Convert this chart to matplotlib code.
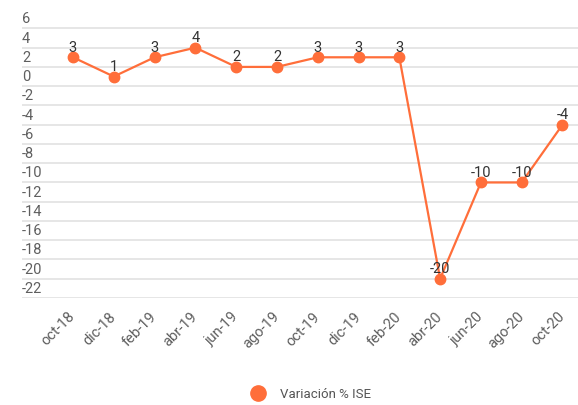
import matplotlib

matplotlib.use("Agg")
import matplotlib.pyplot as plt
from matplotlib.lines import Line2D
from matplotlib.transforms import ScaledTranslation

periods = ["oct-18", "dic-18", "feb-19", "abr-19", "jun-19", "ago-19", "oct-19",
           "dic-19", "feb-20", "abr-20", "jun-20", "ago-20", "oct-20"]
ise_var = [3, 1, 3, 4, 2, 2, 3, 3, 3, -20, -10, -10, -4]
y_ticks = list(range(-22, 7, 2))

line_color = "#ff6e3a"
plt.rcParams["font.family"] = ["Roboto", "DejaVu Sans"]

fig = plt.figure(figsize=(5.78, 4.05), dpi=100)
ax = fig.add_axes([22 / 578, 1 - 298 / 405, 556 / 578, 285 / 405])

x = list(range(len(periods)))
ax.plot(x, ise_var, color=line_color, linewidth=1.6, marker="o", markersize=7.5, zorder=3)
for xi, v in zip(x, ise_var):
    ax.annotate(str(v), (xi, v), xytext=(0, 2), textcoords="offset points",
                ha="center", va="bottom", fontsize=10.5, color="#333333", zorder=4)

ax.set_xlim(-1.25, 12.38)
ax.set_ylim(-22, 7.6)
ax.set_yticks(y_ticks)
ax.set_yticklabels([str(t) for t in y_ticks])
ax.grid(axis="y", color="#e4e4e4", linewidth=1.3, zorder=0)
ax.set_axisbelow(True)
for s in ax.spines.values():
    s.set_visible(False)

ax.tick_params(axis="y", length=0, pad=0, labelsize=10.5, labelcolor="#5f5f5f")
up = ScaledTranslation(0, 1.5 / 72, fig.dpi_scale_trans)
for lab in ax.get_yticklabels():
    lab.set_ha("left")
    lab.set_va("bottom")
    lab.set_transform(lab.get_transform() + up)

ax.set_xticks(x)
ax.set_xticklabels(periods, rotation=45, ha="right", va="center", rotation_mode="anchor")
ax.tick_params(axis="x", length=0, pad=12, labelsize=10.5, labelcolor="#5f5f5f")

handle = Line2D([], [], color=line_color, marker="o", linestyle="none", markersize=11)
fig.legend([handle], ["Variación % ISE"], loc="center", bbox_to_anchor=(308 / 578, 1 - 394 / 405),
           frameon=False, fontsize=9.5, labelcolor="#555555", handletextpad=0.7)

fig.savefig("out.png", dpi=100)
